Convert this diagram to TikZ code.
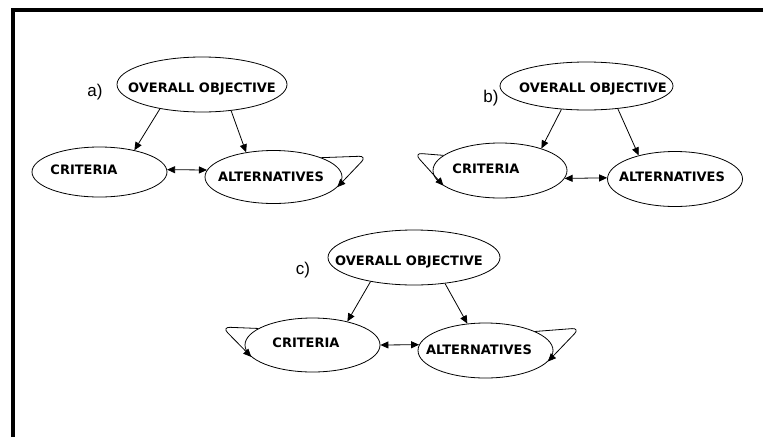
\documentclass[tikz,border=0pt]{standalone}
\usepackage{fontspec}
\setmainfont{Liberation Sans}
\newfontfamily\boxfont{DejaVu Sans}
\usetikzlibrary{shapes.geometric,arrows.meta}

\tikzset{
  ell/.style={draw, ellipse, inner sep=0pt, line width=0.8pt},
  txt/.style={inner sep=0pt, font=\boxfont\fontsize{13}{15}\selectfont\bfseries},
  tag/.style={inner sep=0pt, font=\fontsize{17}{19}\selectfont},
  arr/.style={line width=0.8pt, -{Triangle[length=8pt,width=7pt]}},
  dbl/.style={line width=0.8pt, {Triangle[length=8pt,width=7pt]}-{Triangle[length=8pt,width=7pt]}}
}

\begin{document}
\begin{tikzpicture}[x=1pt, y=-1pt]
    \useasboundingbox (0,0) rectangle (763,437);
    % Frame
    \draw[line width=4pt] (13,437) -- (13,10) -- (763,10);

    % Diagram a)
    \node[ell, minimum width=170pt, minimum height=55pt] (objA) at (202,84.5) {};
    \node[ell, minimum width=135pt, minimum height=50pt] (critA) at (99.5,172) {};
    \node[ell, minimum width=137pt, minimum height=53pt] (altA) at (273.5,177) {};
    \node[txt] (objAt) at (202,89) {OVERALL OBJECTIVE};
    \node[txt] (critAt) at (84,170) {CRITERIA};
    \node[txt] (altAt) at (271,177) {ALTERNATIVES};
    \node[tag] (tagA) at (95,92) {a)};
    \coordinate (loopA) at (367,156);

    \draw[arr] (objA.210) -- (critA.32);
    \draw[arr] (objA.318) -- (altA.138);
    \draw[dbl] (critA.2) -- (altA.174);
    \draw[arr, rounded corners=8pt] (altA.22) -- (loopA) -- (altA.-9);

    % Diagram b)
    \node[ell, minimum width=173pt, minimum height=48pt] (objB) at (586.5,86) {};
    \node[ell, minimum width=134pt, minimum height=55pt] (critB) at (500,170.5) {};
    \node[ell, minimum width=135pt, minimum height=55pt] (altB) at (675,179) {};
    \node[txt] (objBt) at (593,89) {OVERALL OBJECTIVE};
    \node[txt] (critBt) at (486,169) {CRITERIA};
    \node[txt] (altBt) at (672,177) {ALTERNATIVES};
    \node[tag] (tagB) at (491,98) {b)};
    \coordinate (loopB) at (414,153);

    \draw[arr] (objB.223) -- (critB.28);
    \draw[arr] (objB.324) -- (altB.147);
    \draw[dbl] (critB.353) -- (altB.179);
    \draw[arr, rounded corners=8pt] (critB.165) -- (loopB) -- (critB.195);

    % Diagram c)
    \node[ell, minimum width=172pt, minimum height=55pt] (objC) at (414,257.5) {};
    \node[ell, minimum width=135pt, minimum height=54pt] (critC) at (312.5,345) {};
    \node[ell, minimum width=135pt, minimum height=55pt] (altC) at (485.5,350.5) {};
    \node[txt] (objCt) at (409,262) {OVERALL OBJECTIVE};
    \node[txt] (critCt) at (306,343) {CRITERIA};
    \node[txt] (altCt) at (479,350) {ALTERNATIVES};
    \node[tag] (tagC) at (303,270) {c)};
    \coordinate (loopCl) at (222,327);
    \coordinate (loopCr) at (580,328);

    \draw[arr] (objC.209) -- (critC.34);
    \draw[arr] (objC.320) -- (altC.124);
    \draw[dbl] (critC.0) -- (altC.175);
    \draw[arr, rounded corners=8pt] (critC.163) -- (loopCl) -- (critC.191);
    \draw[arr, rounded corners=8pt] (altC.21) -- (loopCr) -- (altC.350);
\end{tikzpicture}
\end{document}
